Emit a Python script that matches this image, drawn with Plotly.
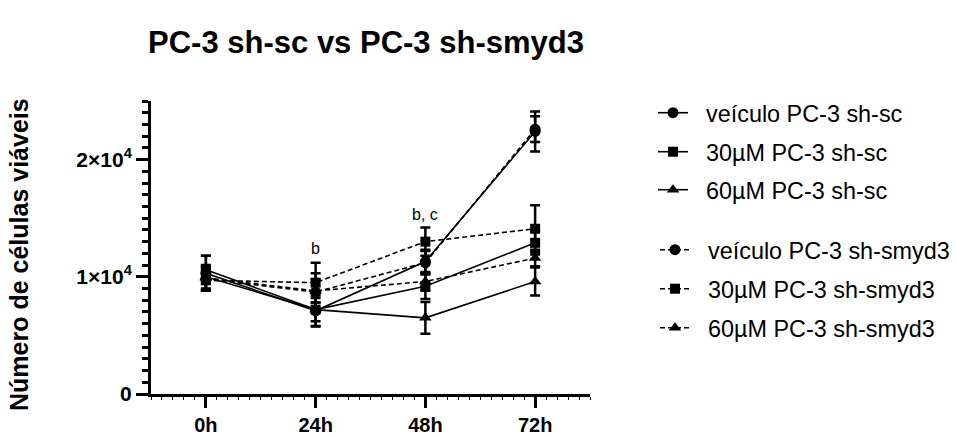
import plotly.graph_objects as go

# ---- data ----
time_labels = ["0h", "24h", "48h", "72h"]

series_names = [
    "veículo PC-3 sh-sc",
    "30µM PC-3 sh-sc",
    "60µM PC-3 sh-sc",
    "veículo PC-3 sh-smyd3",
    "30µM PC-3 sh-smyd3",
    "60µM PC-3 sh-smyd3",
]

veiculo_sc = [10300, 7100, 11300, 22400]
uM30_sc = [10600, 7200, 9200, 12900]
uM60_sc = [10000, 7200, 6500, 9600]
veiculo_smyd3 = [9800, 8700, 11200, 22600]
uM30_smyd3 = [9700, 9500, 13000, 14100]
uM60_smyd3 = [9900, 8800, 9600, 11600]

veiculo_sc_err = [1500, 1300, 1000, 1700]
uM30_sc_err = [1200, 1000, 1100, 1000]
uM60_sc_err = [1000, 1450, 1350, 1200]
veiculo_smyd3_err = [1000, 1600, 1000, 1100]
uM30_smyd3_err = [900, 1700, 1200, 2000]
uM60_smyd3_err = [1000, 1000, 800, 700]

y_tick_vals = [0, 10000, 20000]
y_tick_text = ["0", "1×10<sup>4</sup>", "2×10<sup>4</sup>"]

annot_texts = ["b", "b, c"]
annot_x_idx = [1, 2]
annot_y = [12450, 15300]

# ---- figure ----
W, H = 956, 436
# screen coordinates of plot area
PX0, PX1, PY0, PY1 = 151, 590, 101, 394
L, R, T, B = PX0, W - PX1, PY0, H - PY1
FONT = "Liberation Sans, Arial, sans-serif"


def cx(px):
    return px / W


def cy(py):
    return 1 - py / H


values = [veiculo_sc, uM30_sc, uM60_sc, veiculo_smyd3, uM30_smyd3, uM60_smyd3]
errors = [veiculo_sc_err, uM30_sc_err, uM60_sc_err,
          veiculo_smyd3_err, uM30_smyd3_err, uM60_smyd3_err]
symbols = ["circle", "square", "triangle-up"] * 2
sizes = [11, 10, 11] * 2
dashes = ["solid"] * 3 + ["5px,3px"] * 3
legend_ids = ["legend", "legend2", "legend3", "legend4", "legend5", "legend6"]
legend_y_px = [113, 152, 190, 250, 289, 328]
legend_x_px = [653, 653, 653, 655, 655, 655]

x_idx = list(range(len(time_labels)))

fig = go.Figure()
for i in range(6):
    fig.add_trace(go.Scatter(
        x=x_idx, y=values[i], name="\u00a0\u00a0" + series_names[i],
        mode="lines+markers",
        line=dict(color="black", width=1.6, dash=dashes[i]),
        marker=dict(symbol=symbols[i], size=sizes[i], color="black"),
        error_y=dict(type="data", array=errors[i], color="black",
                     thickness=2.5, width=5),
        legend=legend_ids[i],
        showlegend=True,
    ))

layout_legends = {}
for i in range(6):
    layout_legends[legend_ids[i]] = dict(
        x=cx(legend_x_px[i]), y=cy(legend_y_px[i]),
        xref="container", yref="container",
        xanchor="left", yanchor="middle",
        font=dict(family=FONT, size=23.4, color="black"),
        bgcolor="rgba(0,0,0,0)",
    )

annotations = []
for t, xi, yv in zip(annot_texts, annot_x_idx, annot_y):
    annotations.append(dict(x=xi, y=yv, xref="x", yref="y", text=t,
                            showarrow=False, xanchor="center", yanchor="middle",
                            font=dict(family=FONT, size=16, color="black")))

plot_w = PX1 - PX0
plot_h = PY1 - PY0
annotations.append(dict(
    x=(19 - PX0) / plot_w, y=(PY1 - 255) / plot_h, xref="paper", yref="paper",
    text="Número de células viáveis", textangle=-90, showarrow=False,
    xanchor="center", yanchor="middle",
    font=dict(family=FONT, size=25, color="black", weight="bold")))

fig.update_layout(
    width=W, height=H,
    showlegend=True,
    margin=dict(l=L, r=R, t=T, b=B, autoexpand=False),
    paper_bgcolor="white", plot_bgcolor="white",
    title=dict(text="PC-3 sh-sc vs PC-3 sh-smyd3", x=cx(366), y=cy(42),
               xref="container", yref="container",
               xanchor="center", yanchor="middle",
               font=dict(family=FONT, size=31, color="black", weight="bold")),
    xaxis=dict(range=[-0.5, 3.5], tickmode="array", tickvals=x_idx,
               ticktext=time_labels, showgrid=False, zeroline=False,
               showline=True, linewidth=3, linecolor="black",
               ticks="outside", ticklen=11, tickwidth=2.5, tickcolor="black",
               tickfont=dict(family=FONT, size=20, color="black", weight="bold"),
               minor=dict(tickmode="linear", tick0=-0.5, dtick=0.1, ticks="outside",
                          ticklen=3, tickwidth=1, tickcolor="black")),
    yaxis=dict(range=[0, 25000], tickmode="array", tickvals=y_tick_vals,
               ticktext=y_tick_text, showgrid=False, zeroline=False,
               showline=True, linewidth=3, linecolor="black",
               ticks="outside", ticklen=12, tickwidth=2.5, tickcolor="black",
               tickfont=dict(family=FONT, size=21, color="black", weight="bold"),
               minor=dict(tickmode="linear", tick0=0, dtick=1000, ticks="outside",
                          ticklen=6, tickwidth=2.5, tickcolor="black")),
    annotations=annotations,
    **layout_legends,
)

fig.write_html(
    "out.html",
    config={"displayModeBar": False},
    post_script="document.body.style.margin='0';document.body.style.overflow='hidden';",
)
